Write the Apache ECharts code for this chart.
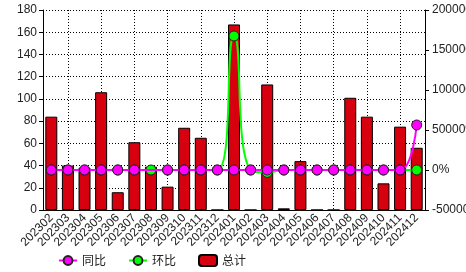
<!DOCTYPE html>
<html><head><meta charset="utf-8">
<script src="https://cdn.jsdelivr.net/npm/echarts@6/dist/echarts.min.js"></script>
<style>html,body{margin:0;padding:0;background:#fff}#c{width:466px;height:272px}</style>
</head><body><div id="c"></div>
<script>
const categories = ['202302','202303','202304','202305','202306','202307','202308','202309','202310','202311','202312','202401','202402','202403','202404','202405','202406','202407','202408','202409','202410','202411','202412'];
const totalValues = [84,40,38,106,16,61,39,21,74,65,0,167,0,113,1.5,44,0,0,101,84,24,75,56];
const yoyValues = [0,0,0,0,0,0,null,0,0,0,0,0,0,0,0,0,0,0,0,0,0,0,56250];
const momValues = [0,0,0,0,0,0,0,0,0,0,0,167500,0,-3000,0,0,0,0,0,0,0,0,0];
const leftTicks = {min:0,max:180,interval:20};
const rightTicks = {min:-50000,max:200000,interval:50000};

// half-category positions used only for the vertical dotted grid
const halfSteps = [];
for (let k = 0; k <= categories.length * 2; k++) halfSteps.push(String(k));

const chart = echarts.init(document.getElementById('c'), null, {renderer:'canvas'});
const lab = {color:'#222', fontFamily:'Liberation Sans, Arial, sans-serif', fontSize:12};
chart.setOption({
  animation:false,
  backgroundColor:'#fff',
  grid:{left:43,right:41,top:10,bottom:62,containLabel:false,outerBoundsMode:'none'},
  legend:{
    data:['同比','环比','总计'],
    left:53, top:249, itemGap:22, itemWidth:18, itemHeight:11,
    textStyle:{fontFamily:'Noto Sans CJK SC, sans-serif',fontSize:12,color:'#222'}
  },
  xAxis:[{
    type:'category', data:categories,
    axisLine:{lineStyle:{color:'#000',width:1}},
    axisTick:{alignWithLabel:true,length:4,lineStyle:{color:'#000'},interval:0},
    axisLabel:{...lab,fontSize:12,rotate:45,interval:0,margin:6},
    splitLine:{show:false}
  },{
    type:'category', data:halfSteps, boundaryGap:false, position:'bottom',
    axisLine:{show:false},axisTick:{show:false},axisLabel:{show:false},
    splitLine:{show:true,interval:function(k){return k%4===3;},lineStyle:{color:'#000',type:[1,2],width:1}}
  }],
  yAxis:[
    {type:'value',min:leftTicks.min,max:leftTicks.max,interval:leftTicks.interval,
     axisLine:{show:true,lineStyle:{color:'#000'}},axisTick:{show:true,length:4,lineStyle:{color:'#000'}},
     axisLabel:{...lab,margin:6},
     splitLine:{show:true,lineStyle:{color:'#000',type:[1,2],width:1}}},
    {type:'value',min:rightTicks.min,max:rightTicks.max,interval:rightTicks.interval,
     axisLine:{show:true,lineStyle:{color:'#000'}},axisTick:{show:true,length:4,lineStyle:{color:'#000'}},
     axisLabel:{...lab,margin:7,formatter:function(v){return String(v)+'%';}},
     splitLine:{show:false}}
  ],
  series:[
    {name:'总计',type:'bar',data:totalValues,yAxisIndex:0,barWidth:12,z:1,
     itemStyle:{color:'#d7000f',borderColor:'#000',borderWidth:1}},
    {name:'环比',type:'line',data:momValues,yAxisIndex:1,smooth:0.55,z:3,
     symbol:'circle',symbolSize:10,showAllSymbol:true,
     lineStyle:{color:'#00ff00',width:2},itemStyle:{color:'#00ff00',borderColor:'#222',borderWidth:1}},
    {name:'同比',type:'line',data:yoyValues,yAxisIndex:1,smooth:0.5,connectNulls:true,z:4,
     symbol:'circle',symbolSize:10,showAllSymbol:true,
     lineStyle:{color:'#ff00ff',width:2},itemStyle:{color:'#ff00ff',borderColor:'#222',borderWidth:1}}
  ]
});
</script></body></html>
